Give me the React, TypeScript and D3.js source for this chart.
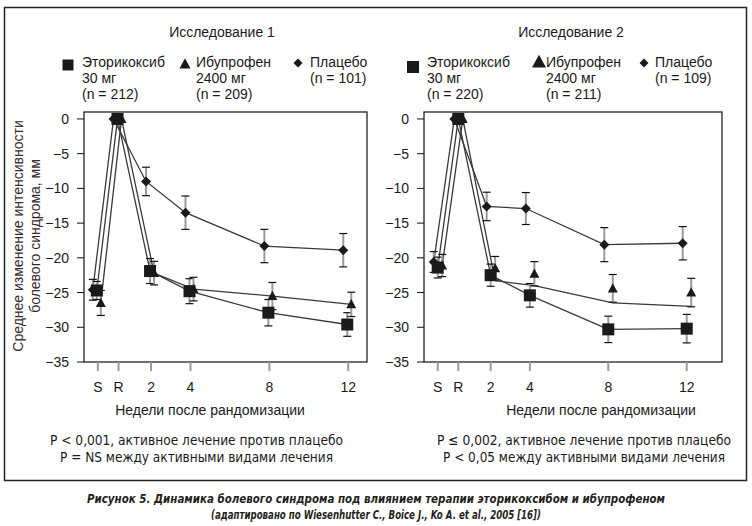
import React from "react";
import * as d3 from "d3";

// weeks after randomisation (S = screening, R = randomisation)
const weekLabels = ["S", "R", "2", "4", "8", "12"];
const weekPos = [-0.7, 0.35, 2, 4, 8, 12];
const yTicks = [0, -5, -10, -15, -20, -25, -30, -35];

// Study 1
const etori1 = [-24.7, 0, -21.9, -24.8, -27.9, -29.6];
const etori1Err = [1.3, 0, 1.8, 1.8, 1.9, 1.7];
const ibu1 = [-26.5, 0, -22.2, -24.5, -25.5, -26.7];
const ibu1Err = [1.8, 0, 1.7, 1.7, 1.95, 1.75];
const plac1 = [-24.6, 0, -9.0, -13.5, -18.3, -18.9];
const plac1Err = [1.5, 0, 2.05, 2.4, 2.4, 2.4];

// Study 2
const etori2 = [-21.4, 0, -22.5, -25.4, -30.3, -30.2];
const etori2Err = [1.5, 0, 1.6, 1.7, 1.9, 2.05];
const ibu2 = [-21.1, 0, -21.5, -22.3, -24.4, -25.0];
const ibu2Line = [-21.1, 0, -23.3, -24.0, -26.5, -27.0];
const ibu2Err = [1.6, 0, 1.7, 1.75, 2.0, 2.05];
const plac2 = [-20.6, 0, -12.6, -12.9, -18.1, -17.9];
const plac2Err = [1.5, 0, 2.05, 2.3, 2.45, 2.4];

const FONT = "'Liberation Sans', Arial, Helvetica, sans-serif";
const NARROW = "'Liberation Sans Narrow', 'DejaVu Sans Condensed', 'Liberation Sans', sans-serif";

type Series = {
  kind: "square" | "triangle" | "diamond";
  values: number[];
  line: number[];
  err: number[];
};

const Marker: React.FC<{ kind: string; x: number; y: number; size: number }> = ({ kind, x, y, size }) => {
  const h = size / 2;
  if (kind === "square") return <rect x={x - h} y={y - h} width={size} height={size} fill="#1a1a1a" />;
  if (kind === "triangle")
    return <path d={`M${x},${y - h * 1.05}L${x + h},${y + h * 0.8}L${x - h},${y + h * 0.8}Z`} fill="#1a1a1a" />;
  return <path d={`M${x},${y - h}L${x + h},${y}L${x},${y + h}L${x - h},${y}Z`} fill="#1a1a1a" />;
};

const Panel: React.FC<{
  left: number;
  width: number;
  xMax: number;
  series: Series[];
  offsets: number[];
}> = ({ left, width, xMax, series, offsets }) => {
  const top = 112;
  const bottom = 362;
  const x = d3.scaleLinear().domain([-1.4, xMax]).range([left, left + width]);
  const y = d3.scaleLinear().domain([-35, 1]).range([bottom, top]);
  const sizes: Record<string, number> = { square: 12, triangle: 10, diamond: 10 };
  const lineGen = (vals: number[], off: number) =>
    d3
      .line<number>()
      .x((_, i) => x(weekPos[i]) + off)
      .y((v) => y(v))(vals) as string;

  return (
    <g>
      {/* lines */}
      {series.map((s, si) => (
        <path key={"l" + si} d={lineGen(s.line, offsets[si])} fill="none" stroke="#3a3a3a" strokeWidth={1.3} />
      ))}
      {/* error bars */}
      {series.map((s, si) =>
        s.values.map((v, i) => {
          if (!s.err[i]) return null;
          const cx = x(weekPos[i]) + offsets[si];
          const y1 = y(v + s.err[i]);
          const y2 = y(v - s.err[i]);
          return (
            <g key={`e${si}-${i}`}>
              <line x1={cx} x2={cx} y1={y1} y2={y2} stroke="#9a9a9a" strokeWidth={2} />
              <line x1={cx - 4} x2={cx + 4} y1={y1} y2={y1} stroke="#111" strokeWidth={1.2} />
              <line x1={cx - 4} x2={cx + 4} y1={y2} y2={y2} stroke="#111" strokeWidth={1.2} />
            </g>
          );
        })
      )}
      {/* markers */}
      {series.map((s, si) =>
        s.values.map((v, i) => (
          <Marker key={`m${si}-${i}`} kind={s.kind} x={x(weekPos[i]) + offsets[si]} y={y(v)} size={sizes[s.kind]} />
        ))
      )}
      {/* frame */}
      <rect x={left} y={top} width={width} height={bottom - top} fill="none" stroke="#111" strokeWidth={1.2} />
      {/* y axis */}
      {yTicks.map((t) => (
        <g key={"y" + t}>
          <line x1={left - 7} x2={left} y1={y(t)} y2={y(t)} stroke="#111" strokeWidth={1} />
          <text x={left - 15} y={y(t) + 5} textAnchor="end" fontSize={14} fontFamily={FONT} fill="#1a1a1a">
            {t === 0 ? "0" : "\u2212" + Math.abs(t)}
          </text>
        </g>
      ))}
      {/* x axis */}
      {weekLabels.map((lab, i) => (
        <g key={"x" + lab}>
          <line x1={x(weekPos[i])} x2={x(weekPos[i])} y1={bottom} y2={bottom + 9} stroke="#9a9a9a" strokeWidth={2} />
          <text x={x(weekPos[i])} y={bottom + 30} textAnchor="middle" fontSize={14} fontFamily={FONT} fill="#1a1a1a">
            {lab}
          </text>
        </g>
      ))}
    </g>
  );
};

const LegendItem: React.FC<{ kind: string; mx: number; my: number; size: number; tx: number; lines: string[] }> = ({
  kind,
  mx,
  my,
  size,
  tx,
  lines,
}) => (
  <g>
    <Marker kind={kind} x={mx} y={my} size={size} />
    {lines.map((l, i) => (
      <text key={i} x={tx} y={67 + i * 16} fontSize={14} fontFamily={FONT} fill="#1a1a1a">
        {l}
      </text>
    ))}
  </g>
);

const App: React.FC = () => {
  const s1: Series[] = [
    { kind: "diamond", values: plac1, line: plac1, err: plac1Err },
    { kind: "square", values: etori1, line: etori1, err: etori1Err },
    { kind: "triangle", values: ibu1, line: ibu1, err: ibu1Err },
  ];
  const s2: Series[] = [
    { kind: "diamond", values: plac2, line: plac2, err: plac2Err },
    { kind: "square", values: etori2, line: etori2, err: etori2Err },
    { kind: "triangle", values: ibu2, line: ibu2Line, err: ibu2Err },
  ];

  return (
    <svg width={752} height={526} style={{ position: "absolute", left: 0, top: 0, background: "#fff" }}>
      <rect x={4.5} y={7.5} width={742} height={473} fill="none" stroke="#222" strokeWidth={1.5} />

      <text x={222} y={37} textAnchor="middle" fontSize={14} fontFamily={FONT} fill="#1a1a1a">
        Исследование 1
      </text>
      <text x={571} y={37} textAnchor="middle" fontSize={14} fontFamily={FONT} fill="#1a1a1a">
        Исследование 2
      </text>

      <LegendItem kind="square" mx={68} my={65} size={11} tx={82} lines={["Эторикоксиб", "30 мг", "(n = 212)"]} />
      <LegendItem kind="triangle" mx={185} my={64} size={11} tx={196} lines={["Ибупрофен", "2400 мг", "(n = 209)"]} />
      <LegendItem kind="diamond" mx={298} my={63} size={9} tx={310} lines={["Плацебо", "(n = 101)"]} />

      <LegendItem kind="square" mx={413} my={67} size={12} tx={427} lines={["Эторикоксиб", "30 мг", "(n = 220)"]} />
      <LegendItem kind="triangle" mx={539} my={62} size={14} tx={546} lines={["Ибупрофен", "2400 мг", "(n = 211)"]} />
      <LegendItem kind="diamond" mx={644} my={63} size={9} tx={655} lines={["Плацебо", "(n = 109)"]} />

      <Panel left={84} width={283} xMax={12.95} series={s1} offsets={[-5, -1, 3]} />
      <Panel left={424} width={298} xMax={13.8} series={s2} offsets={[-4, 0, 4.5]} />

      <g transform="translate(18,236) rotate(-90)">
        <text x={0} y={5} textAnchor="middle" fontSize={14} fontFamily={FONT} fill="#3a2a2a">
          Среднее изменение интенсивности
        </text>
        <text x={0} y={22} textAnchor="middle" fontSize={14} fontFamily={FONT} fill="#3a2a2a">
          болевого синдрома, мм
        </text>
      </g>

      <text x={210} y={415} textAnchor="middle" fontSize={14} fontFamily={FONT} fill="#1a1a1a">
        Недели после рандомизации
      </text>
      <text x={601} y={415} textAnchor="middle" fontSize={14} fontFamily={FONT} fill="#1a1a1a">
        Недели после рандомизации
      </text>

      <text x={196.5} y={445} textAnchor="middle" fontSize={14} fontFamily={NARROW} fill="#1a1a1a" textLength={293} lengthAdjust="spacingAndGlyphs">
        P &lt; 0,001, активное лечение против плацебо
      </text>
      <text x={196.5} y={462} textAnchor="middle" fontSize={14} fontFamily={NARROW} fill="#1a1a1a" textLength={273} lengthAdjust="spacingAndGlyphs">
        P = NS между активными видами лечения
      </text>
      <text x={584} y={445} textAnchor="middle" fontSize={14} fontFamily={NARROW} fill="#1a1a1a" textLength={294} lengthAdjust="spacingAndGlyphs">
        P ≤ 0,002, активное лечение против плацебо
      </text>
      <text x={584} y={462} textAnchor="middle" fontSize={14} fontFamily={NARROW} fill="#1a1a1a" textLength={282} lengthAdjust="spacingAndGlyphs">
        P &lt; 0,05 между активными видами лечения
      </text>

      <text x={376} y={503} textAnchor="middle" fontSize={12} fontWeight="bold" fontStyle="italic" fontFamily={NARROW} fill="#231f20" textLength={578} lengthAdjust="spacingAndGlyphs">
        Рисунок 5. Динамика болевого синдрома под влиянием терапии эторикоксибом и ибупрофеном
      </text>
      <text x={376} y={519} textAnchor="middle" fontSize={12} fontWeight="bold" fontStyle="italic" fontFamily={NARROW} fill="#231f20" textLength={330} lengthAdjust="spacingAndGlyphs">
        (адаптировано по Wiesenhutter C., Boice J., Ko A. et al., 2005 [16])
      </text>
    </svg>
  );
};

export default App;
